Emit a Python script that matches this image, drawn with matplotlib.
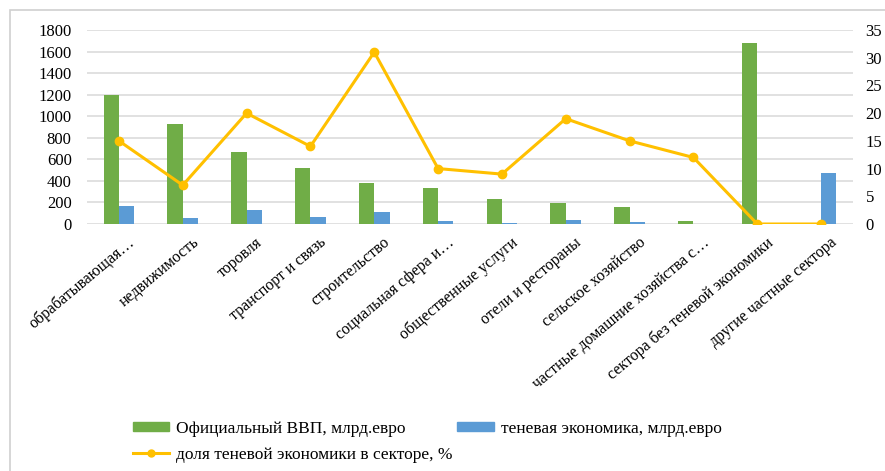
import matplotlib
matplotlib.use("Agg")
import matplotlib.pyplot as plt
import matplotlib.transforms as mtransforms
import numpy as np
from matplotlib.patches import Rectangle, Patch
from matplotlib.lines import Line2D

plt.rcParams['font.family'] = ['Liberation Serif', 'DejaVu Serif']

categories = [
    "обрабатывающая…", "недвижимость", "торовля", "транспорт и связь",
    "строительство", "социальная сфера и…", "общественные услуги",
    "отели и рестораны", "сельское хозяйство",
    "частные домашние хозяйства с…", "сектора без теневой экономики",
    "другие частные сектора",
]
official_gdp = [1200, 930, 665, 520, 380, 330, 232, 198, 157, 28, 1678, 0]
shadow_economy = [170, 58, 130, 68, 108, 28, 6, 34, 21, 0, 0, 472]
shadow_share = [15, 7, 20, 14, 31, 10, 9, 19, 15, 12, 0, 0]

left_ticks = list(range(0, 1801, 200))
right_ticks = list(range(0, 36, 5))

green = "#70AD47"
blue = "#5B9BD5"
gold = "#FFC000"
grid_c = "#D9D9D9"

W, H = 885, 471
fig = plt.figure(figsize=(W / 100, H / 100), dpi=100)

# chart frame: only its top and left edges fall inside the canvas
fig.patches.append(Rectangle((10 / W, -0.05), 1.1, 1.05 - 10 / H,
                             transform=fig.transFigure, fill=False,
                             edgecolor="#D0D0D0", linewidth=1.2))

ax = fig.add_axes([87 / W, 1 - 224 / H, 766 / W, 194 / H])
x = np.arange(len(categories))
bw = 0.24
ax.bar(x - bw / 2, official_gdp, bw, color=green, zorder=3)
ax.bar(x + bw / 2, shadow_economy, bw, color=blue, zorder=3)
ax.set_xlim(-0.5, len(categories) - 0.5)
ax.set_ylim(0, 1800)
ax.set_yticks(left_ticks)
ax.set_yticklabels([str(t) for t in left_ticks], fontsize=12)
ax.yaxis.grid(True, color=grid_c, linewidth=1.1, zorder=0)
ax.set_axisbelow(True)
for s in ax.spines.values():
    s.set_visible(False)
ax.tick_params(axis='y', length=0, pad=11)
ax.tick_params(axis='x', length=0, pad=12)
ax.set_xticks(x)
ax.set_xticklabels(categories, rotation=40, ha='right', va='center',
                   rotation_mode='anchor', fontsize=11.5)
shift = mtransforms.ScaledTranslation(14 / 100, 0, fig.dpi_scale_trans)
for lbl in ax.get_xticklabels():
    lbl.set_transform(lbl.get_transform() + shift)

ax2 = ax.twinx()
ax2.plot(x, shadow_share, color=gold, linewidth=2.2, marker='o',
         markersize=6, zorder=4)
ax2.set_ylim(0, 35)
ax2.set_yticks(right_ticks)
ax2.set_yticklabels([str(t) for t in right_ticks], fontsize=12)
for s in ax2.spines.values():
    s.set_visible(False)
ax2.tick_params(axis='y', length=0, pad=9)

handles = [
    Patch(facecolor=green, edgecolor=green),
    Line2D([0], [0], color=gold, linewidth=2.2, marker='o', markersize=5),
    Patch(facecolor=blue, edgecolor=blue),
]
labels = [
    "Официальный ВВП, млрд.евро",
    "доля теневой экономики в секторе, %",
    "теневая экономика, млрд.евро",
]
fig.legend(handles, labels, loc='upper left',
           bbox_to_anchor=(133 / W, 1 - 421 / H), ncol=2, frameon=False,
           fontsize=12.5, handlelength=2.1, handleheight=0.4,
           handletextpad=0.4, columnspacing=0.25, labelspacing=0.55,
           borderpad=0, borderaxespad=0)

fig.savefig("out.png", dpi=100)
